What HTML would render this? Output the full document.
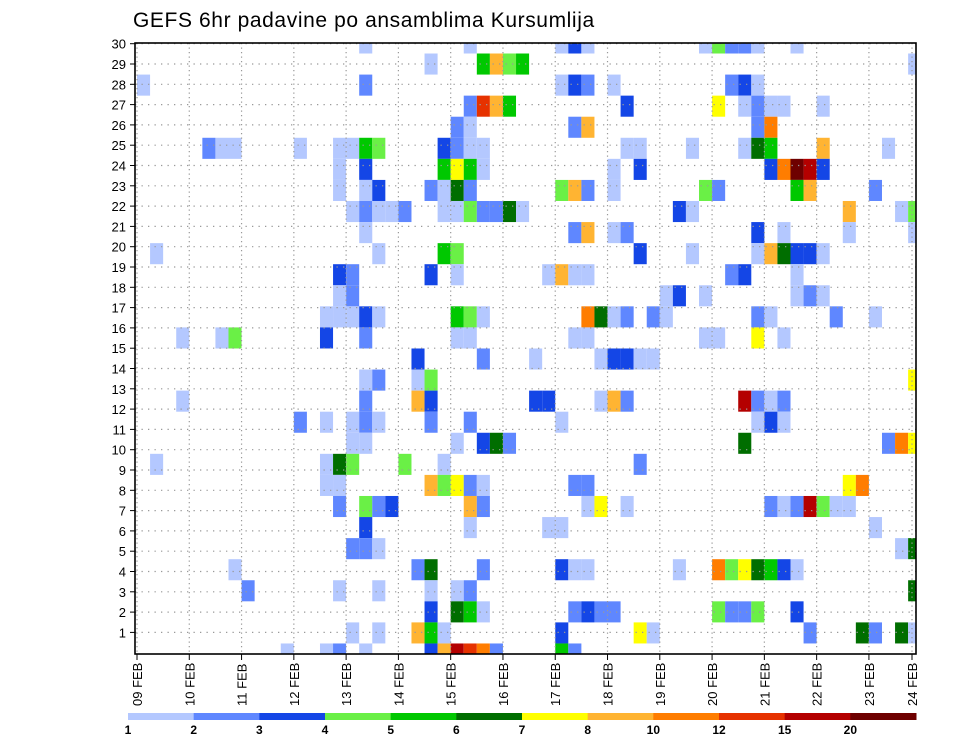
<!DOCTYPE html>
<html><head><meta charset="utf-8"><style>
html,body{margin:0;padding:0;background:#fff;}
svg{display:block;font-family:"Liberation Sans",sans-serif;}
</style></head><body>
<svg id="chart" width="960" height="742" viewBox="0 0 960 742" xmlns="http://www.w3.org/2000/svg">
<text x="133" y="27" font-size="21" letter-spacing="0.6" fill="#000">GEFS 6hr padavine po ansamblima Kursumlija</text>
<defs><clipPath id="plotclip"><rect x="135" y="43" width="781" height="611"/></clipPath></defs>
<g id="cells" clip-path="url(#plotclip)"></g>
<g id="grid"></g>
<rect x="135" y="43" width="781" height="611" fill="none" stroke="#000" stroke-width="1.6"/>
<g id="yaxis"></g>
<g id="xaxis"></g>
<g id="colorbar"></g>
</svg>
<script>
const levels = [1, 2, 3, 4, 5, 6, 7, 8, 10, 12, 15, 20];
const levelLabels = ["1","2","3","4","5","6","7","8","10","12","15","20"];
const levelColors = ["#b4c8ff","#5f87ff","#1446e6","#6af046","#00c800","#006e00","#ffff00","#ffb432","#ff7d00","#e63200","#b40000","#6e0000"];
const dayLabels = ["09 FEB","10 FEB","11 FEB","12 FEB","13 FEB","14 FEB","15 FEB","16 FEB","17 FEB","18 FEB","19 FEB","20 FEB","21 FEB","22 FEB","23 FEB","24 FEB"];
const memberLabels = [1,2,3,4,5,6,7,8,9,10,11,12,13,14,15,16,17,18,19,20,21,22,23,24,25,26,27,28,29,30];
// [member row, 6h step, precip mm]
const cells = [
[29,17,1.5],[29,25,1.5],[29,32,1.5],[29,33,3.5],[29,34,1.5],[29,43,1.5],[29,44,4.5],[29,45,2.5],[29,46,2.5],[29,47,1.5],[29,50,1.5],
[28,22,1.5],[28,26,5.5],[28,27,9],[28,28,4.5],[28,29,5.5],[28,59,1.5],
[27,0,1.5],[27,17,2.5],[27,32,1.5],[27,33,3.5],[27,34,2.5],[27,36,1.5],[27,45,2.5],[27,46,3.5],[27,47,1.5],
[26,25,2.5],[26,26,13.5],[26,27,9],[26,28,5.5],[26,37,3.5],[26,44,7.5],[26,46,1.5],[26,47,2.5],[26,48,1.5],[26,49,1.5],[26,52,1.5],
[25,24,2.5],[25,25,1.5],[25,33,2.5],[25,34,9],[25,47,2.5],[25,48,11],
[24,5,2.5],[24,6,1.5],[24,7,1.5],[24,12,1.5],[24,15,1.5],[24,16,1.5],[24,17,5.5],[24,18,4.5],[24,23,3.5],[24,24,2.5],[24,25,1.5],[24,26,1.5],[24,37,1.5],[24,38,1.5],[24,42,1.5],[24,46,1.5],[24,47,6.5],[24,48,5.5],[24,52,9],[24,57,1.5],
[23,15,1.5],[23,17,3.5],[23,23,5.5],[23,24,7.5],[23,25,5.5],[23,26,1.5],[23,36,1.5],[23,38,3.5],[23,48,3.5],[23,49,11],[23,50,25],[23,51,17],[23,52,3.5],
[22,15,1.5],[22,17,1.5],[22,18,3.5],[22,22,2.5],[22,23,1.5],[22,24,6.5],[22,25,2.5],[22,32,4.5],[22,33,9],[22,34,2.5],[22,36,1.5],[22,43,4.5],[22,44,2.5],[22,50,5.5],[22,51,9],[22,56,2.5],
[21,16,1.5],[21,17,2.5],[21,18,1.5],[21,19,1.5],[21,20,2.5],[21,23,1.5],[21,24,1.5],[21,25,4.5],[21,26,2.5],[21,27,2.5],[21,28,6.5],[21,29,1.5],[21,41,3.5],[21,42,1.5],[21,54,9],[21,58,1.5],[21,59,4.5],
[20,17,1.5],[20,33,2.5],[20,34,9],[20,36,1.5],[20,37,2.5],[20,47,3.5],[20,49,1.5],[20,54,1.5],[20,59,1.5],
[19,1,1.5],[19,18,1.5],[19,23,5.5],[19,24,4.5],[19,38,3.5],[19,42,1.5],[19,47,1.5],[19,48,9],[19,49,6.5],[19,50,3.5],[19,51,3.5],[19,52,1.5],
[18,15,3.5],[18,16,2.5],[18,22,3.5],[18,24,1.5],[18,31,1.5],[18,32,9],[18,33,1.5],[18,34,1.5],[18,45,2.5],[18,46,3.5],[18,50,1.5],
[17,15,1.5],[17,16,2.5],[17,40,1.5],[17,41,3.5],[17,43,1.5],[17,50,1.5],[17,51,2.5],[17,52,1.5],
[16,14,1.5],[16,15,1.5],[16,16,1.5],[16,17,3.5],[16,18,1.5],[16,24,5.5],[16,25,4.5],[16,26,1.5],[16,34,11],[16,35,6.5],[16,36,1.5],[16,37,2.5],[16,39,2.5],[16,40,1.5],[16,47,2.5],[16,48,1.5],[16,53,2.5],[16,56,1.5],
[15,3,1.5],[15,6,1.5],[15,7,4.5],[15,14,3.5],[15,17,2.5],[15,24,1.5],[15,25,1.5],[15,33,1.5],[15,34,1.5],[15,43,1.5],[15,44,1.5],[15,47,7.5],[15,49,1.5],
[14,21,3.5],[14,26,2.5],[14,30,1.5],[14,35,1.5],[14,36,3.5],[14,37,3.5],[14,38,1.5],[14,39,1.5],
[13,17,1.5],[13,18,2.5],[13,21,1.5],[13,22,4.5],[13,59,7.5],
[12,3,1.5],[12,17,2.5],[12,21,9],[12,22,3.5],[12,30,3.5],[12,31,3.5],[12,35,1.5],[12,36,9],[12,37,2.5],[12,46,17],[12,47,2.5],[12,48,1.5],[12,49,2.5],
[11,12,2.5],[11,14,1.5],[11,16,1.5],[11,17,2.5],[11,18,1.5],[11,22,2.5],[11,25,2.5],[11,32,1.5],[11,47,1.5],[11,48,3.5],[11,49,1.5],
[10,16,1.5],[10,17,1.5],[10,24,1.5],[10,26,3.5],[10,27,6.5],[10,28,2.5],[10,46,6.5],[10,57,2.5],[10,58,11],[10,59,7.5],
[9,1,1.5],[9,14,1.5],[9,15,6.5],[9,16,4.5],[9,20,4.5],[9,23,1.5],[9,38,2.5],
[8,14,1.5],[8,15,1.5],[8,22,9],[8,23,4.5],[8,24,7.5],[8,25,2.5],[8,26,1.5],[8,33,2.5],[8,34,2.5],[8,54,7.5],[8,55,11],
[7,15,2.5],[7,17,4.5],[7,18,2.5],[7,19,3.5],[7,25,9],[7,26,2.5],[7,34,1.5],[7,35,7.5],[7,37,1.5],[7,48,2.5],[7,49,1.5],[7,50,2.5],[7,51,17],[7,52,4.5],[7,53,1.5],[7,54,1.5],
[6,17,3.5],[6,25,1.5],[6,31,1.5],[6,32,1.5],[6,56,1.5],
[5,16,2.5],[5,17,2.5],[5,18,1.5],[5,58,1.5],[5,59,6.5],
[4,7,1.5],[4,21,2.5],[4,22,6.5],[4,26,2.5],[4,32,3.5],[4,33,1.5],[4,34,1.5],[4,41,1.5],[4,44,11],[4,45,4.5],[4,46,7.5],[4,47,6.5],[4,48,5.5],[4,49,3.5],[4,50,1.5],
[3,8,2.5],[3,15,1.5],[3,18,1.5],[3,22,1.5],[3,24,1.5],[3,25,2.5],[3,59,6.5],
[2,22,3.5],[2,24,6.5],[2,25,5.5],[2,26,1.5],[2,33,2.5],[2,34,3.5],[2,35,2.5],[2,36,2.5],[2,44,4.5],[2,45,2.5],[2,46,2.5],[2,47,4.5],[2,50,3.5],
[1,16,1.5],[1,18,1.5],[1,21,9],[1,22,5.5],[1,23,1.5],[1,32,3.5],[1,38,7.5],[1,39,1.5],[1,51,2.5],[1,55,6.5],[1,56,2.5],[1,58,6.5],[1,59,1.5],
[0,11,1.5],[0,14,1.5],[0,15,2.5],[0,17,1.5],[0,22,3.5],[0,23,9],[0,24,17],[0,25,13.5],[0,26,11],[0,27,2.5],[0,32,5.5],[0,33,2.5]
];

const NS = "http://www.w3.org/2000/svg";
const PX0 = 135, PX1 = 916, PY0 = 43, PY1 = 654;
const stepW = 13.07, rowH = 21.07, cellX0 = 137;
function xStep(k){ return cellX0 + stepW * k; }
function yMember(m){ return PY1 - rowH * m; }
function xDay(d){ return cellX0 + 4 * stepW * d; }
function yLabel(r){ return 43.7 + (30 - r) * 20.3; }
function colorFor(v){ let idx = -1; for (let i = 0; i < levels.length; i++) if (v >= levels[i]) idx = i; return idx < 0 ? null : levelColors[idx]; }
function mk(tag, attrs, parent){ const e = document.createElementNS(NS, tag); for (const k in attrs) e.setAttribute(k, attrs[k]); parent.appendChild(e); return e; }

const gC = document.getElementById('cells');
cells.forEach(c => {
  const col = colorFor(c[2]); if (!col) return;
  const r = mk('rect', {x: xStep(c[1]).toFixed(2), y: (yMember(c[0]) - rowH/2).toFixed(2), width: stepW.toFixed(2), height: rowH.toFixed(2), fill: col}, gC);
  
  
});

const gG = document.getElementById('grid');
memberLabels.forEach(r => {
  const y = yLabel(r);
  const l = mk('line', {x1: PX0, x2: PX1, y1: y, y2: y, stroke: '#999', 'stroke-width': 1.2, 'stroke-dasharray': '1.3 5.2'}, gG);
  
  
});
dayLabels.forEach((d, i) => {
  const x = i < 15 ? xDay(i) : 912;
  const l = mk('line', {x1: x, x2: x, y1: PY0, y2: PY1, stroke: '#999', 'stroke-width': 1.2, 'stroke-dasharray': '1.3 3.2'}, gG);
  
  
});

const gY = document.getElementById('yaxis');
memberLabels.forEach(r => {
  const y = yLabel(r);
  const t = mk('text', {x: 126, y: y + 5, 'text-anchor': 'end', 'font-size': 13, fill: '#000'}, gY);
  t.textContent = r;
  
  
  const tk = mk('line', {x1: 130, x2: 135, y1: y, y2: y, stroke: '#000', 'stroke-width': 1}, gY);
  
  
});

const gX = document.getElementById('xaxis');
dayLabels.forEach((d, i) => {
  const x = i < 15 ? xDay(i) : 912;
  const tk = mk('line', {x1: x, x2: x, y1: PY1, y2: PY1 + 6, stroke: '#000', 'stroke-width': 1}, gX);
  
  
  const t = mk('text', {x: 0, y: 0, 'font-size': 13, fill: '#000', transform: `translate(${x + 5},706) rotate(-90)`}, gX);
  t.textContent = d;
  
  
});

const gB = document.getElementById('colorbar');
const cbX0 = 128, cbX1 = 916, cbW = (cbX1 - cbX0) / levels.length;
levels.forEach((lv, i) => {
  const r = mk('rect', {x: (cbX0 + i * cbW).toFixed(2), y: 713, width: (cbW + 0.5).toFixed(2), height: 7, fill: levelColors[i]}, gB);
  
  
  const t = mk('text', {x: (cbX0 + i * cbW).toFixed(2), y: 734, 'text-anchor': 'middle', 'font-size': 12, 'font-weight': 'bold', fill: '#000'}, gB);
  t.textContent = levelLabels[i];
  
  
});
</script>
</body></html>
